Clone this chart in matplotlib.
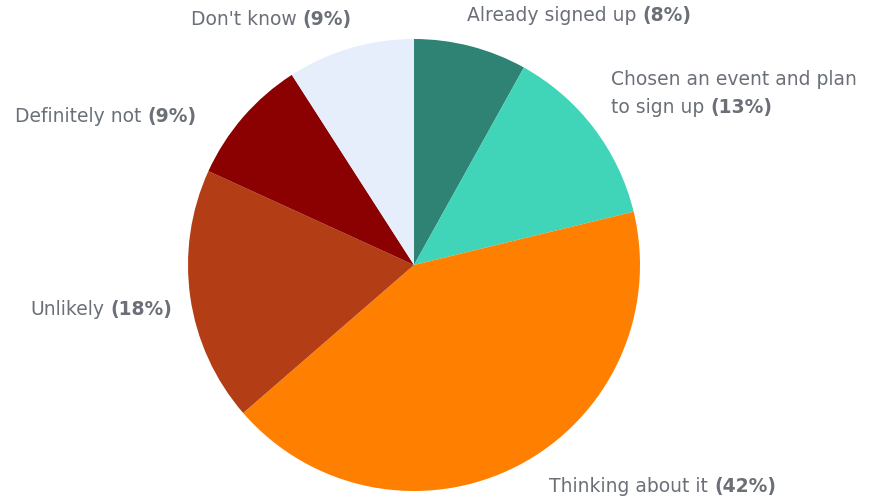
import matplotlib
matplotlib.use("Agg")
import matplotlib.pyplot as plt
import numpy as np

categories = [
    "Already signed up",
    "Chosen an event and plan\nto sign up",
    "Thinking about it",
    "Unlikely",
    "Definitely not",
    "Don't know",
]
shares = [8, 13, 42, 18, 9, 9]
colors = ["#2e8374", "#40d4b9", "#ff8000", "#b33e15", "#8b0000", "#e6eefc"]

# small pixel nudges applied to the computed label anchors (dx right, dy down)
label_nudge = [(-12, 0), (-8, -15), (17, -7), (13, 8), (-23, 20), (10, 2)]

W, H = 876, 499
DPI = 100
fig = plt.figure(figsize=(W / DPI, H / DPI), dpi=DPI)
ax = fig.add_axes([0, 0, 1, 1])

cx, cy, R = 414, H - 265, 226
wedges, _ = ax.pie(shares, colors=colors, startangle=90, counterclock=False,
                   radius=R, center=(cx, cy), wedgeprops=dict(linewidth=0))
ax.set_xlim(0, W)
ax.set_ylim(0, H)
ax.set_aspect("equal")
ax.axis("off")

FONT = "DejaVu Sans"
SIZE = 13.5
TXT = "#6b7078"
LINE_PX = 28

fig.canvas.draw()
renderer = fig.canvas.get_renderer()


def width_px(s, weight):
    t = ax.text(0, 0, s, fontsize=SIZE, family=FONT, fontweight=weight)
    w = t.get_window_extent(renderer).width
    t.remove()
    return w


space = width_px("a a", "normal") - width_px("aa", "normal")
label_r = 1.14 * R
for wdg, name, val, (ndx, ndy) in zip(wedges, categories, shares, label_nudge):
    mid = np.deg2rad((wdg.theta1 + wdg.theta2) / 2)
    lx = cx + label_r * np.cos(mid) + ndx
    ly = cy + label_r * np.sin(mid) - ndy
    right = np.cos(mid) >= 0
    lines = name.split("\n")
    pct = f"({round(val)}%)"
    n = len(lines)
    for i, line in enumerate(lines):
        y = ly + (n - 1 - 2 * i) * LINE_PX / 2
        last = i == n - 1
        wn = width_px(line, "normal")
        wb = width_px(pct, "bold") if last else 0
        full = wn + (space + wb if last else 0)
        x0 = lx if right else lx - full
        ax.text(x0, y, line, fontsize=SIZE, family=FONT, color=TXT,
                ha="left", va="center")
        if last:
            ax.text(x0 + wn + space, y, pct, fontsize=SIZE, family=FONT,
                    color=TXT, fontweight="bold", ha="left", va="center")

fig.savefig("out.png", dpi=DPI, facecolor="white")
